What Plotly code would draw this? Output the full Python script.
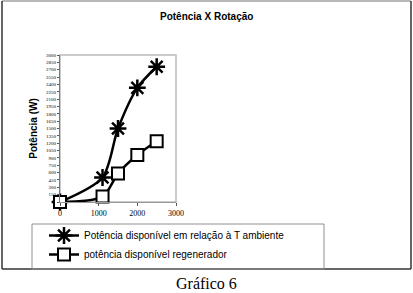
import plotly.graph_objects as go

rotacao = [0, 1100, 1500, 2000, 2500]
pot_ambiente = [0, 500, 1500, 2330, 2760]
pot_regenerador = [0, 110, 580, 960, 1240]
y_ticks = list(range(0, 3001, 150))
y_tick_labels = [""] + [str(v) for v in y_ticks[1:]]
x_ticks = [0, 1000, 2000, 3000]

W, H = 413, 293
L, R, T, B = 60, 176, 55, 202
pw, ph = R - L, B - T

def px(x):
    return (x - L) / pw

def py(y):
    return (B - y) / ph

fig = go.Figure()
fig.add_trace(go.Scatter(
    x=rotacao, y=pot_ambiente, mode="lines+markers",
    name="Potência disponível em relação à T ambiente",
    line=dict(color="black", width=2.5, shape="spline", smoothing=0.8),
    marker=dict(symbol="asterisk-open", size=14, color="black",
                line=dict(color="black", width=2.5)),
    cliponaxis=False,
))
fig.add_trace(go.Scatter(
    x=rotacao, y=pot_regenerador, mode="lines+markers",
    name="potência disponível regenerador",
    line=dict(color="black", width=2.5, shape="spline", smoothing=0.8),
    marker=dict(symbol="square", size=12, color="white",
                line=dict(color="black", width=2)),
    cliponaxis=False,
))

shapes = [
    dict(type="line", xref="paper", yref="paper", x0=px(2), x1=px(411), y0=py(1), y1=py(1),
         line=dict(color="#a0a0a0", width=1.5)),
    dict(type="line", xref="paper", yref="paper", x0=px(2), x1=px(2), y0=py(1), y1=py(269),
         line=dict(color="#333333", width=1.5)),
    dict(type="line", xref="paper", yref="paper", x0=px(411), x1=px(411), y0=py(1), y1=py(269),
         line=dict(color="#333333", width=1.5)),
    dict(type="line", xref="paper", yref="paper", x0=px(2), x1=px(411), y0=py(269), y1=py(269),
         line=dict(color="#333333", width=1.5)),
    dict(type="rect", xref="paper", yref="paper", x0=px(32), x1=px(324), y0=py(224), y1=py(269),
         line=dict(color="#909090", width=1)),
    dict(type="rect", xref="paper", yref="paper", x0=0, x1=1, y0=0, y1=1,
         line=dict(color="#bbbbbb", width=1.5), layer="below"),
]

annotations = [
    dict(text="<b>Potência X Rotação</b>", xref="paper", yref="paper", x=px(206), y=py(17),
         showarrow=False, font=dict(family="Arial, Liberation Sans", size=10, color="black"),
         xanchor="center", yanchor="middle"),
    dict(text="Gráfico 6", xref="paper", yref="paper", x=px(206), y=py(283),
         showarrow=False, font=dict(family="Liberation Serif, Times New Roman", size=16, color="black"),
         xanchor="center", yanchor="middle"),
]

fig.update_layout(
    width=W, height=H,
    margin=dict(l=L, r=W - R, t=T, b=H - B, pad=0),
    paper_bgcolor="white", plot_bgcolor="white",
    showlegend=True,
    legend=dict(x=px(44), y=py(221), xanchor="left", yanchor="top",
                bgcolor="rgba(0,0,0,0)", borderwidth=0,
                font=dict(family="Arial, Liberation Sans", size=10, color="black"),
                itemwidth=30, tracegroupgap=0),
    shapes=shapes,
    annotations=annotations,
    xaxis=dict(range=[0, 3000], tickvals=x_ticks, ticktext=[str(v) for v in x_ticks],
               showgrid=False, zeroline=False, showline=True, linecolor="#999999",
               ticks="outside", ticklen=3, tickcolor="#555555",
               tickfont=dict(family="Liberation Serif, Times New Roman", size=8, color="black")),
    yaxis=dict(range=[0, 3000], tickvals=y_ticks, ticktext=y_tick_labels,
               showgrid=False, zeroline=False, showline=True, linecolor="#777777",
               ticks="outside", ticklen=2, tickcolor="#555555",
               tickfont=dict(family="Liberation Serif, Times New Roman", size=5, color="black"),
               title=dict(text="<b>Potência (W)</b>", standoff=6,
                          font=dict(family="Arial, Liberation Sans", size=10, color="black"))),
)

fig.write_html("out.html", config={"displayModeBar": False},
               post_script="document.body.style.margin='0';document.body.style.overflow='hidden';")
